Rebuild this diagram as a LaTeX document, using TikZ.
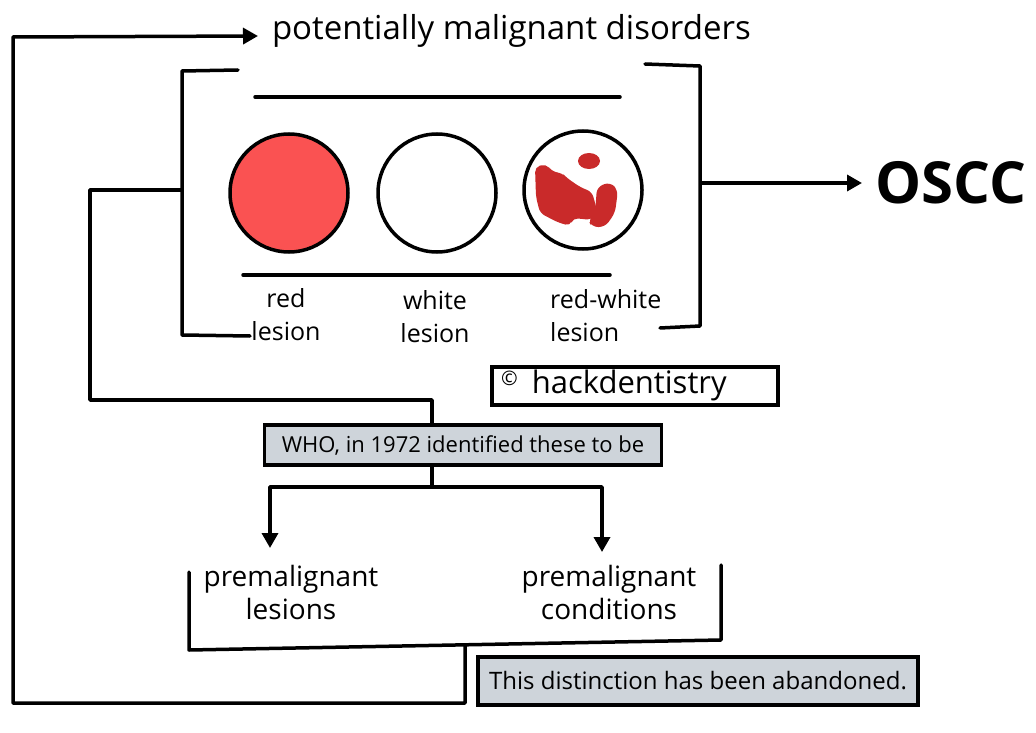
\documentclass[tikz,border=0pt]{standalone}
\usepackage{fontspec}
\setmainfont{Open Sans}
\usetikzlibrary{arrows.meta}
\definecolor{lesionred}{HTML}{FA5252}
\definecolor{blobred}{HTML}{C92A2A}
\definecolor{boxgray}{HTML}{CED4DA}
\newcommand{\fs}[1]{\fontsize{#1}{#1}\selectfont}
\begin{document}
\begin{tikzpicture}[x=1pt,y=-1pt,
  ln/.style={line width=3.5pt, line cap=round, line join=round},
  arr/.style={line width=3.5pt, line join=round, -{Triangle[length=15pt,width=16pt]}},
  lesion/.style={circle, draw, line width=3.5pt, minimum size=118pt, inner sep=0pt},
  lbl/.style={font=\fs{25}, align=center, inner sep=0pt},
  plabel/.style={font=\fs{28}, align=center, inner sep=0pt},
  graybox/.style={draw, line width=3.5pt, fill=boxgray, inner sep=0pt},
  blob/.style={fill=blobred, draw=none}
]
\useasboundingbox (0,0) rectangle (1036,733);

% top title
\node[font=\fs{33}, anchor=west, inner sep=0pt, outer sep=0pt] (pmd) at (272,31) {potentially malignant disorders};

% brackets around lesions
\draw[ln] (238,70) -- (182,71) -- (182,335) -- (250,336);
\draw[ln] (645,64) -- (700,66) -- (700,326) -- (660,328);
\draw[ln] (255,97) -- (620,97);
\draw[ln] (243,275) -- (610,275);
\coordinate (brL) at (182,190);
\coordinate (brR) at (700,183);

% lesions
\node[lesion, fill=lesionred] (red) at (289,193) {};
\node[lesion, fill=white] (white) at (437,193) {};
\node[lesion, fill=white] (rw) at (583,190) {};
\fill[blob] (589,161) ellipse (11 and 8);
\fill[blob, rounded corners=5pt] (535,167) -- (546,164) -- (553,172) -- (562,173) -- (567,178) -- (580,187) -- (592,192) -- (597,210) -- (592,220) -- (573,218) -- (570,226) -- (557,222) -- (540,213) -- (536,197) -- cycle;
\fill[blob, rounded corners=6pt] (597,187) -- (610,182) -- (618,190) -- (615,213) -- (605,227) -- (592,227) -- (588,220) -- (595,213) -- cycle;

% lesion labels
\node[lbl] (lred) at (286,315) {red\\[8pt]lesion};
\node[lbl] (lwhite) at (435,317) {white\\[8pt]lesion};
\node[lbl, align=left, anchor=west] (lrw) at (550,316) {red-white\\[8pt]lesion};

% OSCC
\node[font=\bfseries\fs{58}, anchor=west, inner sep=0pt] (oscc) at (875,183) {OSCC};
\coordinate (osccin) at (862,183);
\draw[arr] (brR) -- (osccin);

% copyright
\node[draw, line width=3.5pt, minimum width=286pt, minimum height=38pt, inner sep=0pt] (copy) at (635,386) {};
\node[font=\fs{31}, anchor=west, inner sep=0pt] (copytxt) at (501,385) {\raisebox{8pt}{\fs{20}©}\hspace{14pt}hackdentistry};

% WHO box
\node[graybox, minimum width=397pt, minimum height=40pt, font=\fs{22}] (who) at (463,445) {WHO, in 1972 identified these to be};
\draw[ln] (brL) -- (90,190) -- (90,400) -- (432,400) -- (who.north -| 432,0);
\coordinate (split) at (432,487);
\draw[ln] (who.south -| 432,0) -- (split);
\draw[arr] (split) -| (270,548);
\draw[arr] (split) -| (602,552);

% premalignant
\node[plabel] (pl) at (291,592) {premalignant\\[5pt]lesions};
\node[plabel] (pc) at (609,592) {premalignant\\[5pt]conditions};
\draw[ln] (189,572) -- (189,650) -- (721,640) -- (721,565);

% distinction box
\node[graybox, minimum width=440pt, minimum height=48pt, font=\fs{24}] (dist) at (698,681) {This distinction has been abandoned.};

% outer loop back to title
\coordinate (loopA) at (465,646);
\coordinate (pmdin) at (258,36);
\draw[arr] (loopA) -- (465,703) -- (13,703) -- (13,37) -- (pmdin);
\end{tikzpicture}
\end{document}
